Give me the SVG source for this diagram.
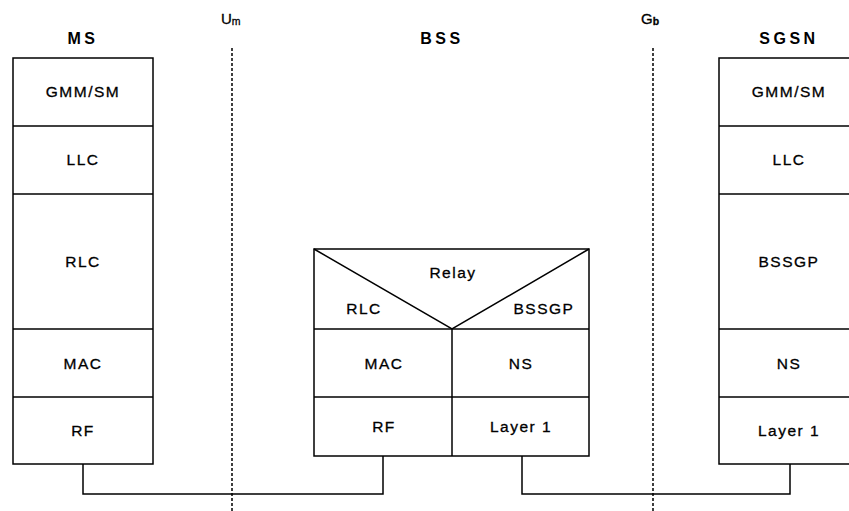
<svg xmlns="http://www.w3.org/2000/svg" width="849" height="511" viewBox="0 0 849 511">
<style>
.box{fill:#fff;stroke:#000;stroke-width:1.5}
.ln{fill:none;stroke:#000;stroke-width:1.5}
.dash{fill:none;stroke:#000;stroke-width:1.5;stroke-dasharray:3 2}
.t{font-family:"Liberation Sans",Arial,sans-serif;font-size:15.5px;letter-spacing:1.5px;text-anchor:middle;fill:#000;stroke:#000;stroke-width:0.3}
.h{font-family:"Liberation Sans",Arial,sans-serif;font-size:16px;font-weight:bold;letter-spacing:3.5px;text-anchor:middle;fill:#000}
.if{font-family:"Liberation Sans",Arial,sans-serif;font-size:15px;fill:#000;stroke:#000;stroke-width:0.3}
</style>
<rect width="849" height="511" fill="#fff"/>
<g id="interfaces">
<line class="dash" x1="232" y1="48" x2="232" y2="511"/>
<line class="dash" x1="653" y1="48" x2="653" y2="511"/>
<text class="if" x="221" y="24">U<tspan font-size="10.5" dy="1">m</tspan></text>
<text class="if" x="641" y="24">G<tspan font-size="10.5" dy="1" font-weight="bold">b</tspan></text>
</g>
<g id="connectors">
<polyline class="ln" points="83,464 83,494 383,494 383,456"/>
<polyline class="ln" points="522,456 522,494 790,494 790,464"/>
</g>
<g id="MS">
<text class="h" x="83" y="44">MS</text>
<rect class="box" x="13" y="58" width="140" height="406"/>
<line class="ln" x1="13" y1="126" x2="153" y2="126"/>
<line class="ln" x1="13" y1="194" x2="153" y2="194"/>
<line class="ln" x1="13" y1="329" x2="153" y2="329"/>
<line class="ln" x1="13" y1="397" x2="153" y2="397"/>
<text class="t" x="83" y="97">GMM/SM</text>
<text class="t" x="83" y="165">LLC</text>
<text class="t" x="83" y="267">RLC</text>
<text class="t" x="83" y="369">MAC</text>
<text class="t" x="83" y="436">RF</text>
</g>
<g id="BSS">
<text class="h" x="442" y="44">BSS</text>
<rect class="box" x="314" y="249" width="275" height="207"/>
<line class="ln" x1="314" y1="329" x2="589" y2="329"/>
<line class="ln" x1="314" y1="397" x2="589" y2="397"/>
<line class="ln" x1="452" y1="329" x2="452" y2="456"/>
<polyline class="ln" points="314,249 452,329 589,249"/>
<text class="t" x="453" y="278">Relay</text>
<text class="t" x="364" y="314">RLC</text>
<text class="t" x="544" y="314">BSSGP</text>
<text class="t" x="384" y="369">MAC</text>
<text class="t" x="521" y="369">NS</text>
<text class="t" x="384" y="432">RF</text>
<text class="t" x="521" y="432">Layer 1</text>
</g>
<g id="SGSN">
<text class="h" x="789" y="44">SGSN</text>
<rect class="box" x="719" y="58" width="140" height="406"/>
<line class="ln" x1="719" y1="126" x2="859" y2="126"/>
<line class="ln" x1="719" y1="194" x2="859" y2="194"/>
<line class="ln" x1="719" y1="329" x2="859" y2="329"/>
<line class="ln" x1="719" y1="397" x2="859" y2="397"/>
<text class="t" x="789" y="97">GMM/SM</text>
<text class="t" x="789" y="165">LLC</text>
<text class="t" x="789" y="267">BSSGP</text>
<text class="t" x="789" y="369">NS</text>
<text class="t" x="789" y="436">Layer 1</text>
</g>
</svg>
